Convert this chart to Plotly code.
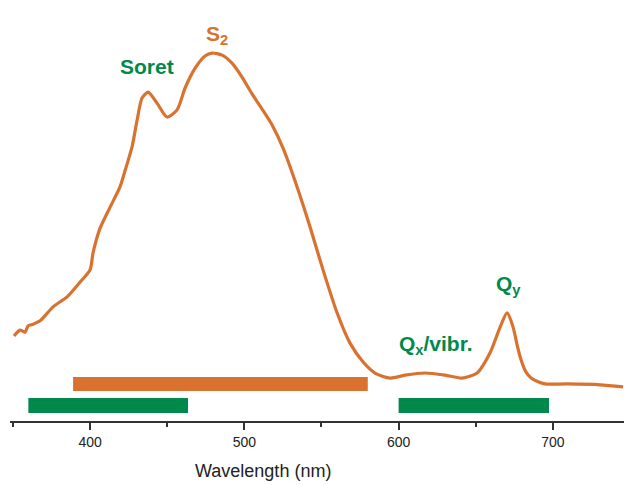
import plotly.graph_objects as go

# Spectrum (wavelength nm, absorbance a.u.)
wavelength = [350.7, 354.6, 357.9, 359.8, 363.1, 367.6, 376.0, 385.1, 393.5, 400.0,
              401.9, 406.5, 413.0, 419.4, 422.8, 427.2, 430.5, 433.7, 437.6, 443.4,
              449.9, 456.4, 461.6, 468.1, 474.5, 479.1, 485.6, 492.0, 498.5, 505.0,
              511.5, 518.0, 525.1, 534.2, 542.6, 551.0, 560.1, 568.5, 577.0, 584.7,
              594.5, 604.2, 617.2, 630.1, 641.1, 650.9, 659.3, 665.8, 670.3, 674.2,
              676.8, 679.4, 682.6, 685.9, 690.4, 694.9, 709.2, 730.6, 745.5]
absorbance = [0.202, 0.216, 0.211, 0.226, 0.230, 0.238, 0.271, 0.295, 0.330, 0.359,
              0.399, 0.458, 0.508, 0.556, 0.596, 0.651, 0.715, 0.767, 0.781, 0.755,
              0.722, 0.739, 0.791, 0.838, 0.867, 0.874, 0.869, 0.850, 0.817, 0.777,
              0.741, 0.703, 0.648, 0.556, 0.461, 0.359, 0.257, 0.185, 0.140, 0.114,
              0.102, 0.109, 0.114, 0.109, 0.102, 0.114, 0.162, 0.223, 0.257, 0.223,
              0.181, 0.145, 0.116, 0.102, 0.093, 0.088, 0.088, 0.086, 0.081]

# Range bars
orange_start = [389]
orange_end = [580]
green_start = [360, 600]
green_end = [463.5, 697.5]

# Labels
label_text = ["Soret", "S<sub>2</sub>", "Q<sub>x</sub>/vibr.", "Q<sub>y</sub>"]
label_x = [436.9, 482.3, 624.3, 671.0]
label_y = [0.843, 0.917, 0.180, 0.323]
label_color = ["#00894A", "#D9712F", "#00894A", "#00894A"]

ORANGE = "#D9712F"
GREEN = "#00894A"
FONT = "Liberation Sans, Arial, sans-serif"

fig = go.Figure()

fig.add_trace(go.Bar(
    orientation="h", y=[0.0879] * len(orange_start),
    base=orange_start, x=[e - s for s, e in zip(orange_start, orange_end)],
    width=0.0333, marker=dict(color=ORANGE, line=dict(width=0)), showlegend=False,
    hoverinfo="skip"))
fig.add_trace(go.Bar(
    orientation="h", y=[0.0368] * len(green_start),
    base=green_start, x=[e - s for s, e in zip(green_start, green_end)],
    width=0.0356, marker=dict(color=GREEN, line=dict(width=0)), showlegend=False,
    hoverinfo="skip"))

fig.add_trace(go.Scatter(
    x=wavelength, y=absorbance, mode="lines",
    line=dict(color=ORANGE, width=3.2, shape="spline", smoothing=0.7),
    showlegend=False))

for t, x, y, c in zip(label_text, label_x, label_y, label_color):
    fig.add_annotation(x=x, y=y, text="<b>" + t + "</b>", showarrow=False,
                       xanchor="center", yanchor="middle",
                       font=dict(family=FONT, size=21, color=c))

fig.add_annotation(x=512.1, y=-0.119, yref="paper", text="Wavelength (nm)",
                   showarrow=False, xanchor="center", yanchor="middle",
                   font=dict(family=FONT, size=18, color="#222"))

fig.update_layout(
    width=624, height=485,
    margin=dict(l=10, r=0, t=0, b=64),
    paper_bgcolor="white", plot_bgcolor="white",
    barmode="overlay",
    font=dict(family=FONT),
    xaxis=dict(range=[348.1, 746.1], tickvals=[400, 500, 600, 700],
               ticks="outside", ticklen=7, tickwidth=1.5, tickcolor="#333",
               showline=True, linecolor="#333", linewidth=2,
               showgrid=False, zeroline=False,
               tickfont=dict(family=FONT, size=14, color="#222"),
               minor=dict(tickvals=[350, 450, 550, 650], ticks="outside",
                          ticklen=4, tickwidth=1.5, tickcolor="#333")),
    yaxis=dict(range=[0, 1], visible=False, showgrid=False, zeroline=False),
)

fig.write_html("out.html")
